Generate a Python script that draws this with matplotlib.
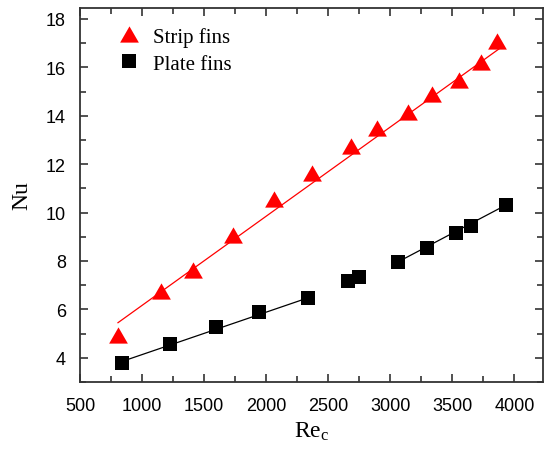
import numpy as np
import matplotlib
matplotlib.use("Agg")
import matplotlib.pyplot as plt
from matplotlib.ticker import MultipleLocator

# strip fins (triangles)
re_strip = [806, 1153, 1411, 1734, 2065, 2371, 2685, 2895, 3145, 3339, 3556, 3734, 3863]
nu_strip = [4.95, 6.77, 7.64, 9.08, 10.57, 11.64, 12.76, 13.50, 14.17, 14.91, 15.49, 16.23, 17.10]
# plate fins (squares)
re_plate = [839, 1226, 1597, 1944, 2339, 2661, 2750, 3065, 3298, 3532, 3653, 3935]
nu_plate = [3.79, 4.58, 5.28, 5.90, 6.48, 7.18, 7.35, 7.97, 8.55, 9.17, 9.45, 10.32]

# fitted lines, end points
fit_strip_x = [806, 3900]
fit_strip_y = [5.45, 16.85]
fit_plate1_x = [839, 2339]
fit_plate1_y = [3.85, 6.48]
fit_plate2_x = [3065, 3935]
fit_plate2_y = [7.97, 10.32]

plt.rcParams['mathtext.fontset'] = 'custom'
plt.rcParams['mathtext.rm'] = 'Liberation Serif'
plt.rcParams['mathtext.it'] = 'Liberation Serif'

fig = plt.figure(figsize=(5.45, 4.56), dpi=100)
ax = fig.add_axes([80/545, 73/456, 463/545, 374/456])

tri = [(0, 0.866), (-1, -0.866), (1, -0.866)]

ax.plot(fit_strip_x, fit_strip_y, color='red', lw=0.9)
ax.plot(fit_plate1_x, fit_plate1_y, color='black', lw=0.9)
ax.plot(fit_plate2_x, fit_plate2_y, color='black', lw=0.9)
ax.plot(re_strip, nu_strip, ls='none', marker=tri, ms=13.5, color='red',
        mew=0, label='Strip fins')
ax.plot(re_plate, nu_plate, ls='none', marker='s', ms=10, color='black',
        mew=0, label='Plate fins')

ax.set_xlim(500, 4230)
ax.set_ylim(3, 18.45)
ax.xaxis.set_major_locator(MultipleLocator(500))
ax.xaxis.set_minor_locator(MultipleLocator(250))
ax.yaxis.set_major_locator(MultipleLocator(2))
ax.yaxis.set_minor_locator(MultipleLocator(1))
ax.set_yticks(np.arange(4, 19, 2))

ax.tick_params(which='both', direction='in', top=True, right=True, width=1.1,
               color='#222222')
ax.tick_params(which='major', length=6)
ax.tick_params(which='minor', length=4)
ax.tick_params(axis='x', pad=11)
ax.tick_params(axis='y', pad=10)
for lab in ax.get_xticklabels() + ax.get_yticklabels():
    lab.set_fontfamily('Liberation Sans')
    lab.set_fontsize(13)
for s in ax.spines.values():
    s.set_linewidth(1.3)
    s.set_color('#333333')

ax.set_xlabel('Re$_\\mathrm{c}$', fontfamily='Liberation Serif', fontsize=17, labelpad=4)
ax.set_ylabel('Nu', fontfamily='Liberation Serif', fontsize=17, labelpad=10)

ax.legend(loc='upper left', bbox_to_anchor=(0.02, 1.0), frameon=False,
          numpoints=1, handletextpad=0.15, labelspacing=0.35,
          prop={'family': 'Liberation Serif', 'size': 15})

fig.savefig('out.png', dpi=100)
